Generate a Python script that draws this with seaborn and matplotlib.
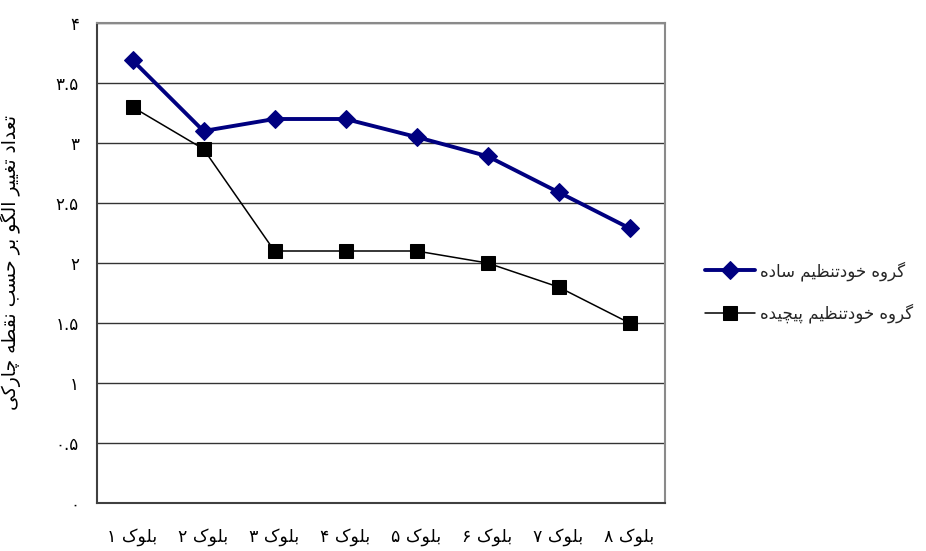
import matplotlib
matplotlib.use("Agg")
import matplotlib.pyplot as plt
import seaborn as sns
import pandas as pd

# ---------------- data ----------------
blocks = ["بلوک ۱", "بلوک ۲", "بلوک ۳", "بلوک ۴", "بلوک ۵", "بلوک ۶", "بلوک ۷", "بلوک ۸"]
simple_vals = [3.69, 3.10, 3.20, 3.20, 3.05, 2.89, 2.59, 2.29]
complex_vals = [3.30, 2.95, 2.10, 2.10, 2.10, 2.00, 1.80, 1.50]
series_names = ["گروه خودتنظیم ساده", "گروه خودتنظیم پیچیده"]
ytick_vals = [0, 0.5, 1, 1.5, 2, 2.5, 3, 3.5, 4]
ytick_labels = ["۰", "۰.۵", "۱", "۱.۵", "۲", "۲.۵", "۳", "۳.۵", "۴"]
ylabel_text = "تعداد تغییر الگو بر حسب نقطه چارکی"

# ------------- simple Persian shaping (presentation forms, visual order) -------------
FORMS = {
    '\u0627': ('\uFE8D', '\uFE8E', None, None),
    '\u0628': ('\uFE8F', '\uFE90', '\uFE91', '\uFE92'),
    '\u067E': ('\uFB56', '\uFB57', '\uFB58', '\uFB59'),
    '\u062A': ('\uFE95', '\uFE96', '\uFE97', '\uFE98'),
    '\u0686': ('\uFB7A', '\uFB7B', '\uFB7C', '\uFB7D'),
    '\u062D': ('\uFEA1', '\uFEA2', '\uFEA3', '\uFEA4'),
    '\u062E': ('\uFEA5', '\uFEA6', '\uFEA7', '\uFEA8'),
    '\u062F': ('\uFEA9', '\uFEAA', None, None),
    '\u0631': ('\uFEAD', '\uFEAE', None, None),
    '\u0633': ('\uFEB1', '\uFEB2', '\uFEB3', '\uFEB4'),
    '\u0637': ('\uFEC1', '\uFEC2', '\uFEC3', '\uFEC4'),
    '\u0638': ('\uFEC5', '\uFEC6', '\uFEC7', '\uFEC8'),
    '\u0639': ('\uFEC9', '\uFECA', '\uFECB', '\uFECC'),
    '\u063A': ('\uFECD', '\uFECE', '\uFECF', '\uFED0'),
    '\u0642': ('\uFED5', '\uFED6', '\uFED7', '\uFED8'),
    '\u0644': ('\uFEDD', '\uFEDE', '\uFEDF', '\uFEE0'),
    '\u0645': ('\uFEE1', '\uFEE2', '\uFEE3', '\uFEE4'),
    '\u0646': ('\uFEE5', '\uFEE6', '\uFEE7', '\uFEE8'),
    '\u0647': ('\uFEE9', '\uFEEA', '\uFEEB', '\uFEEC'),
    '\u0648': ('\uFEED', '\uFEEE', None, None),
    '\u06A9': ('\uFB8E', '\uFB8F', '\uFB90', '\uFB91'),
    '\u06AF': ('\uFB92', '\uFB93', '\uFB94', '\uFB95'),
    '\u06CC': ('\uFBFC', '\uFBFD', '\uFBFE', '\uFBFF'),
}


def shape(s):
    s = s.replace('\u064A', '\u06CC').replace('\u0643', '\u06A9')
    out = []
    n = len(s)
    for i, ch in enumerate(s):
        f = FORMS.get(ch)
        if f is None:
            out.append(ch)
            continue
        prev = s[i - 1] if i > 0 else None
        nxt = s[i + 1] if i + 1 < n else None
        jp = prev in FORMS and FORMS[prev][2] is not None
        jn = (nxt in FORMS) and f[2] is not None
        if jp and jn:
            g = f[3]
        elif jp:
            g = f[1]
        elif jn:
            g = f[2]
        else:
            g = f[0]
        out.append(g)
    return ''.join(reversed(out))


# ---------------- plot ----------------
sns.set_theme(style="white")
plt.rcParams['font.family'] = ['DejaVu Sans']

shaped_blocks = [shape(b) for b in blocks]
df = pd.DataFrame({
    "block": shaped_blocks * 2,
    "value": simple_vals + complex_vals,
    "group": [series_names[0]] * len(blocks) + [series_names[1]] * len(blocks),
})

fig = plt.figure(figsize=(9.26, 5.51), dpi=100)
ax = fig.add_axes([97 / 926, 1 - 503 / 551, 568 / 926, 480 / 551])

d1 = df[df["group"] == series_names[0]]
d2 = df[df["group"] == series_names[1]]
sns.lineplot(data=d1, x="block", y="value", ax=ax, sort=False, color="#000080",
             linewidth=2.8, marker="D", markersize=9, markeredgecolor="#000080",
             label=shape(series_names[0]))
sns.lineplot(data=d2, x="block", y="value", ax=ax, sort=False, color="black",
             linewidth=1.1, marker="s", markersize=9.5, markeredgecolor="black",
             label=shape(series_names[1]))

ax.set_xlim(-0.5, len(blocks) - 0.5)
ax.set_ylim(0, 4)
ax.set_yticks(ytick_vals)
ax.set_yticklabels(ytick_labels)
ax.set_xticks(range(len(blocks)))
ax.set_xticklabels(shaped_blocks)
ax.tick_params(axis="y", length=0, pad=13, labelsize=12, colors="black")
ax.tick_params(axis="x", length=0, pad=18, labelsize=12.5, colors="black")
ax.set_xlabel("")
ax.set_ylabel(shape(ylabel_text), fontsize=13.5, color="black")
ax.yaxis.set_label_coords(-0.133, 0.5)

ax.grid(axis="y", color="#333333", linewidth=1.0)
ax.grid(axis="x", visible=False)
for side in ["left", "bottom"]:
    ax.spines[side].set_color("#404040")
    ax.spines[side].set_linewidth(1.5)
for side in ["top", "right"]:
    ax.spines[side].set_color("#8a8a8a")
    ax.spines[side].set_linewidth(1.5)

ax.legend_.remove()
handles, labels = ax.get_legend_handles_labels()
fig.legend(handles, labels, loc="center left", bbox_to_anchor=(697 / 926, 1 - 292 / 551),
           bbox_transform=fig.transFigure, frameon=False, fontsize=12,
           handlelength=3.0, handletextpad=0.3, labelspacing=1.35, borderpad=0)

fig.savefig("out.png", dpi=100)
